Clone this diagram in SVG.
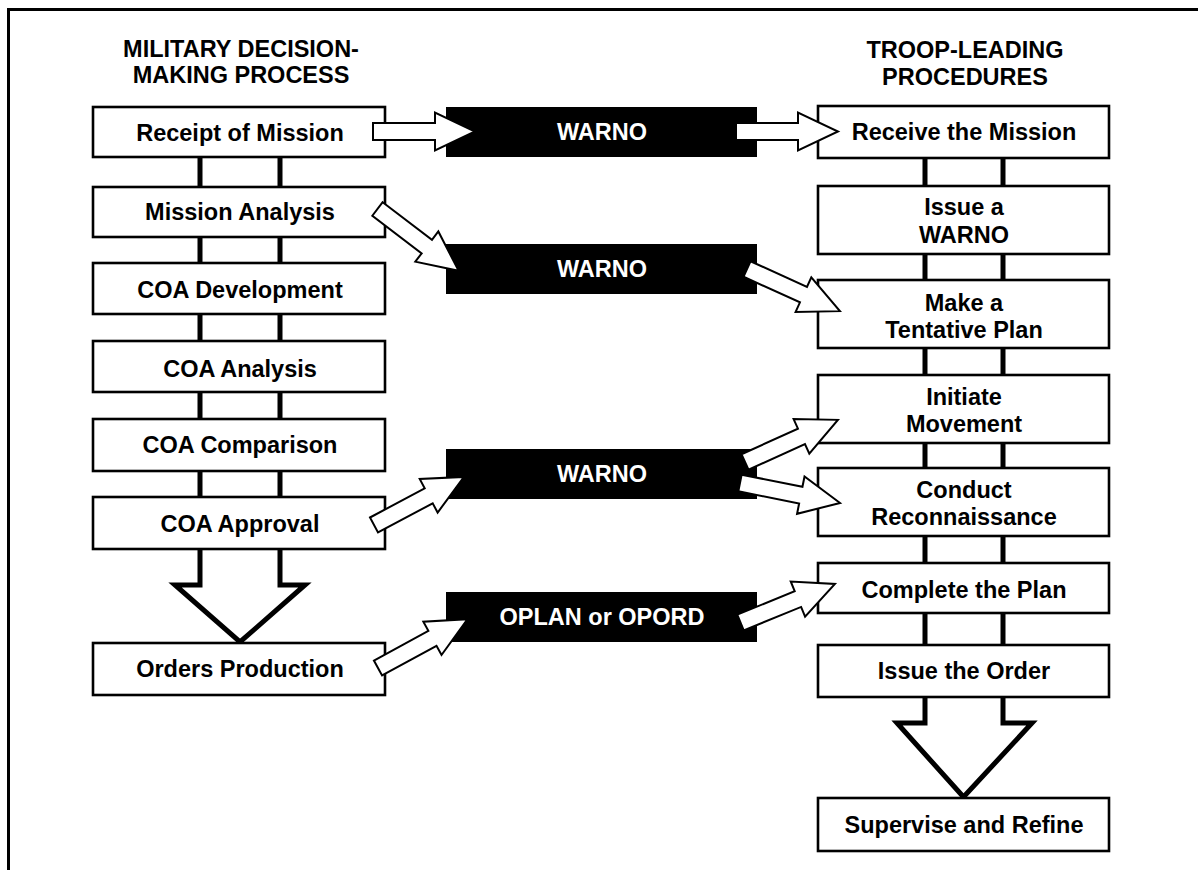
<svg xmlns="http://www.w3.org/2000/svg" width="1198" height="870" viewBox="0 0 1198 870">
  <style>
    .box { fill: #fff; stroke: #000; stroke-width: 2.6; }
    .dark { fill: #000; stroke: #000; stroke-width: 2; }
    .lbl { font-family: "Liberation Sans", Arial, sans-serif; font-weight: bold; font-size: 23.5px; text-anchor: middle; fill: #000; }
    .lbl-w { fill: #fff; }
    .link { stroke: #000; stroke-width: 5; fill: none; }
    .flow { fill: #fff; stroke: #000; stroke-width: 5; stroke-linejoin: miter; }
    .frame { stroke: #000; stroke-width: 3; fill: none; }
  </style>
  <defs>
    <!-- hollow block arrow, tail at origin, pointing along +x -->
    <path id="blockArrow" d="M0,-8.5 H62 V-19 L102,0 L62,19 V8.5 H0 Z" fill="#fff" stroke="#000" stroke-width="2" stroke-linejoin="miter"/>
  </defs>

  <rect width="1198" height="870" fill="#fff"/>
  <!-- page frame (top and left edges) -->
  <path class="frame" d="M8.5,870 V9.5 H1198"/>

  <!-- column headings -->
  <g id="heading-mdmp">
    <text class="lbl" x="241" y="57">MILITARY DECISION-</text>
    <text class="lbl" x="241" y="83">MAKING PROCESS</text>
  </g>
  <g id="heading-tlp">
    <text class="lbl" x="965" y="58">TROOP-LEADING</text>
    <text class="lbl" x="965" y="85">PROCEDURES</text>
  </g>

  <!-- step links and flow arrows -->
  <g id="connectors">
    <path class="link" d="M200,157 V187 M280,157 V187 M200,237 V263 M280,237 V263 M200,314 V341 M280,314 V341 M200,392 V419 M280,392 V419 M200,471 V497 M280,471 V497"/>
    <path class="link" d="M925,158 V186 M1003,158 V186 M925,254 V280 M1003,254 V280 M925,348 V375 M1003,348 V375 M925,443 V468 M1003,443 V468 M925,536 V563 M1003,536 V563 M925,613 V645 M1003,613 V645"/>
    <path class="flow" d="M200,549 V585 H175 L240,642 L305,585 H280 V549"/>
    <path class="flow" d="M925,697 V723 H897 L963.5,797 L1032,723 H1003 V697"/>
  </g>

  <!-- MDMP steps -->
  <g id="mdmp-receipt"><rect class="box" x="93" y="107" width="292" height="50"/><text class="lbl" x="240" y="141">Receipt of Mission</text></g>
  <g id="mdmp-mission-analysis"><rect class="box" x="93" y="187" width="292" height="50"/><text class="lbl" x="240" y="220">Mission Analysis</text></g>
  <g id="mdmp-coa-development"><rect class="box" x="93" y="263" width="292" height="51"/><text class="lbl" x="240" y="298">COA Development</text></g>
  <g id="mdmp-coa-analysis"><rect class="box" x="93" y="341" width="292" height="51"/><text class="lbl" x="240" y="377">COA Analysis</text></g>
  <g id="mdmp-coa-comparison"><rect class="box" x="93" y="419" width="292" height="52"/><text class="lbl" x="240" y="453">COA Comparison</text></g>
  <g id="mdmp-coa-approval"><rect class="box" x="93" y="497" width="292" height="52"/><text class="lbl" x="240" y="532">COA Approval</text></g>
  <g id="mdmp-orders-production"><rect class="box" x="93" y="643" width="292" height="52"/><text class="lbl" x="240" y="677">Orders Production</text></g>

  <!-- orders passed down -->
  <g id="order-warno-1"><rect class="dark" x="447" y="108" width="309" height="48"/><text class="lbl lbl-w" x="602" y="140">WARNO</text></g>
  <g id="order-warno-2"><rect class="dark" x="447" y="245" width="309" height="48"/><text class="lbl lbl-w" x="602" y="277">WARNO</text></g>
  <g id="order-warno-3"><rect class="dark" x="447" y="450" width="309" height="48"/><text class="lbl lbl-w" x="602" y="482">WARNO</text></g>
  <g id="order-oplan"><rect class="dark" x="447" y="593" width="309" height="48"/><text class="lbl lbl-w" x="602" y="625">OPLAN or OPORD</text></g>

  <!-- TLP steps -->
  <g id="tlp-receive"><rect class="box" x="818" y="106" width="291" height="52"/><text class="lbl" x="964" y="140">Receive the Mission</text></g>
  <g id="tlp-issue-warno"><rect class="box" x="818" y="186" width="291" height="68"/><text class="lbl" x="964" y="215">Issue a</text><text class="lbl" x="964" y="243">WARNO</text></g>
  <g id="tlp-tentative-plan"><rect class="box" x="818" y="280" width="291" height="68"/><text class="lbl" x="964" y="311">Make a</text><text class="lbl" x="964" y="338">Tentative Plan</text></g>
  <g id="tlp-initiate-movement"><rect class="box" x="818" y="375" width="291" height="68"/><text class="lbl" x="964" y="405">Initiate</text><text class="lbl" x="964" y="432">Movement</text></g>
  <g id="tlp-reconnaissance"><rect class="box" x="818" y="468" width="291" height="68"/><text class="lbl" x="964" y="498">Conduct</text><text class="lbl" x="964" y="525">Reconnaissance</text></g>
  <g id="tlp-complete-plan"><rect class="box" x="818" y="563" width="291" height="50"/><text class="lbl" x="964" y="598">Complete the Plan</text></g>
  <g id="tlp-issue-order"><rect class="box" x="818" y="645" width="291" height="52"/><text class="lbl" x="964" y="679">Issue the Order</text></g>
  <g id="tlp-supervise"><rect class="box" x="818" y="798" width="291" height="53"/><text class="lbl" x="964" y="833">Supervise and Refine</text></g>

  <!-- block arrows between the columns -->
  <g id="flow-arrows">
    <use href="#blockArrow" transform="translate(373,131.5)"/>
    <use href="#blockArrow" transform="translate(736,131.5)"/>
    <use href="#blockArrow" transform="translate(377.5,209) rotate(37.3)"/>
    <use href="#blockArrow" transform="translate(747,269) rotate(24.4)"/>
    <use href="#blockArrow" transform="translate(374,525) rotate(-28.1)"/>
    <use href="#blockArrow" transform="translate(745,462) rotate(-24.4)"/>
    <use href="#blockArrow" transform="translate(740,483) rotate(11.3)"/>
    <use href="#blockArrow" transform="translate(378,668) rotate(-28.6)"/>
    <use href="#blockArrow" transform="translate(740.5,622.5) rotate(-22.2)"/>
  </g>
</svg>
